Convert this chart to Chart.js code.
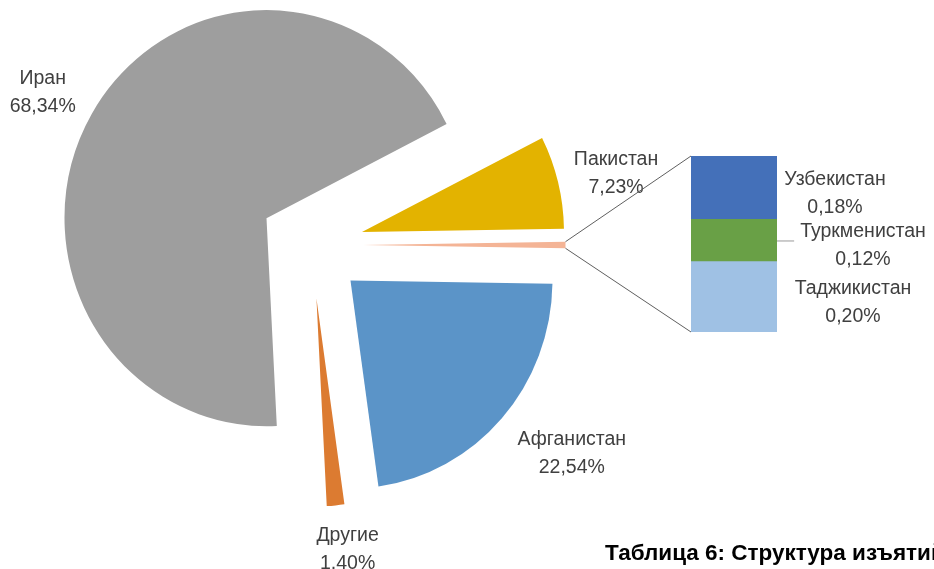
<!DOCTYPE html>
<html lang="ru">
<head>
<meta charset="utf-8">
<title>Структура изъятий</title>
<script src="https://cdn.jsdelivr.net/npm/chart.js@4.4.1/dist/chart.umd.min.js"></script>
<style>
  html, body { margin: 0; padding: 0; background: #fff; overflow: hidden; }
  #wrap { position: relative; width: 934px; height: 569px; overflow: hidden; }
  #wrap canvas { position: absolute; left: 0; top: 0; }
  #caption {
    position: absolute; left: 605px; top: 540px;
    font: bold 22.5px "Liberation Sans", Arial, sans-serif;
    color: #000; white-space: nowrap;
  }
</style>
</head>
<body>
<div id="wrap">
  <canvas id="pie" width="934" height="569"></canvas>
  <canvas id="bar" width="934" height="569"></canvas>
  <div id="caption">Таблица 6: Структура изъятий</div>
</div>
<script>
// Data (shares of total seizures, %)
const pieLabels = ["Афганистан", "Другие", "Иран", "Пакистан"];
const pieValues = [22.54, 1.40, 68.34, 7.23];
const barLabels = ["Узбекистан", "Туркменистан", "Таджикистан"];
const barValues = [0.18, 0.12, 0.20];

// Layout and style
const PIE_X = 311.5, PIE_Y = 245, PIE_R = 202, EXPLODE = 52;
const SY = 1.03; // the source picture is a bit stretched vertically
const CANVAS_W = 934, CANVAS_H = 569;
const otherColor = "#F4B496";
const pieColors = ["#5B94C8", "#DC7B31", "#9E9E9E", "#E3B300"];
const barColors = ["#4470B9", "#69A046", "#9FC1E4"];
const pieLabelShift = [[70, 35], [12, 44], [-49, -21], [58, -8]];
const barLabelDx = [58, 86, 76];
const barLeader = [false, true, false];
const LABEL_FONT = '19.5px "Liberation Sans", Arial, sans-serif';
const TEXT_COLOR = "#404040";
const LINE_GAP = 28;

const fmt = (v) => v.toFixed(2).replace(".", ",") + "%";

// Small slice = sum of the stacked bar
const otherSum = barValues.reduce((a, b) => a + b, 0);
const total = otherSum + pieValues.reduce((a, b) => a + b, 0);
const otherAngle = (otherSum / total) * 360;

function midAngle(arc) {
	return (arc.startAngle + arc.endAngle) / 2;
}

// point of an exploded slice at a given angle and radius
function piePoint(arc, angle, r) {
	const mid = midAngle(arc);
	return {
		x: arc.x + Math.cos(mid) * EXPLODE + Math.cos(angle) * r,
		y: arc.y + (Math.sin(mid) * EXPLODE + Math.sin(angle) * r) * SY,
	};
}

const pieDraw = {
	id: "pieDraw",
	beforeDatasetsDraw(chart) {
		const ctx = chart.ctx;
		const arcs = chart.getDatasetMeta(0).data;

		// exploded slices
		arcs.forEach((arc) => {
			const mid = midAngle(arc);
			ctx.save();
			ctx.translate(arc.x, arc.y);
			ctx.scale(1, SY);
			ctx.translate(-arc.x, -arc.y);
			ctx.translate(Math.cos(mid) * EXPLODE, Math.sin(mid) * EXPLODE);
			arc.draw(ctx);
			ctx.restore();
		});

		// labels
		ctx.save();
		ctx.font = LABEL_FONT;
		ctx.fillStyle = TEXT_COLOR;
		ctx.textAlign = "center";
		ctx.textBaseline = "middle";
		pieLabels.forEach((name, i) => {
			const arc = arcs[i + 1];
			const p = piePoint(arc, midAngle(arc), arc.outerRadius);
			const x = p.x + pieLabelShift[i][0];
			const y = p.y + pieLabelShift[i][1];
			ctx.fillText(name, x, y - LINE_GAP / 2);
			ctx.fillText(fmt(pieValues[i]), x, y + LINE_GAP / 2);
		});
		ctx.restore();
		return false;
	},
};

const pieChart = new Chart(document.getElementById("pie"), {
	type: "pie",
	data: {
		labels: ["Центральная Азия", ...pieLabels],
		datasets: [
			{
				data: [otherSum, ...pieValues],
				backgroundColor: [otherColor, ...pieColors],
				borderWidth: 0,
			},
		],
	},
	options: {
		responsive: false,
		animation: false,
		devicePixelRatio: 1,
		rotation: 90 - otherAngle / 2,
		layout: {
			padding: {
				left: PIE_X - PIE_R,
				right: CANVAS_W - (PIE_X + PIE_R),
				top: PIE_Y - PIE_R,
				bottom: CANVAS_H - (PIE_Y + PIE_R),
			},
		},
		plugins: {
			legend: { display: false },
			tooltip: { enabled: false },
		},
	},
	plugins: [pieDraw],
});

const barDraw = {
	id: "barDraw",
	afterDatasetsDraw(chart) {
		const ctx = chart.ctx;
		const bars = chart.data.datasets.map((d, i) => chart.getDatasetMeta(i).data[0]);
		const left = bars[0].x - bars[0].width / 2;
		const right = bars[0].x + bars[0].width / 2;
		const top = Math.min(...bars.map((b) => b.y));
		const bottom = Math.max(...bars.map((b) => b.base));

		// connector lines from the small slice
		const arc = pieChart.getDatasetMeta(0).data[0];
		const p1 = piePoint(arc, arc.startAngle, arc.outerRadius);
		const p2 = piePoint(arc, arc.endAngle, arc.outerRadius);
		ctx.save();
		ctx.strokeStyle = "#5f5f5f";
		ctx.lineWidth = 1;
		ctx.beginPath();
		ctx.moveTo(p1.x, p1.y);
		ctx.lineTo(left, top);
		ctx.moveTo(p2.x, p2.y);
		ctx.lineTo(left, bottom);
		ctx.stroke();

		// bar labels
		ctx.font = LABEL_FONT;
		ctx.fillStyle = TEXT_COLOR;
		ctx.textAlign = "center";
		ctx.textBaseline = "middle";
		chart.data.datasets.forEach((ds, i) => {
			const b = bars[i];
			const idx = barLabels.indexOf(ds.label);
			const segMid = (b.y + b.base) / 2;
			const x = right + barLabelDx[idx];
			const y = segMid + 5.5;
			ctx.fillText(ds.label, x, y - LINE_GAP / 2);
			ctx.fillText(fmt(barValues[idx]), x, y + LINE_GAP / 2);
			if (barLeader[idx]) {
				const w = ctx.measureText(ds.label).width;
				ctx.strokeStyle = "#999";
				ctx.beginPath();
				ctx.moveTo(right, segMid + 0.5);
				ctx.lineTo(x - w / 2 - 6, segMid + 0.5);
				ctx.stroke();
			}
		});
		ctx.restore();
	},
};

// stacked from the bottom up, so the first country ends on top
const barChart = new Chart(document.getElementById("bar"), {
	type: "bar",
	data: {
		labels: [""],
		datasets: barLabels
			.map((name, i) => ({
				label: name,
				data: [barValues[i]],
				backgroundColor: barColors[i],
				borderWidth: 0,
				barPercentage: 1,
				categoryPercentage: 1,
			}))
			.reverse(),
	},
	options: {
		responsive: false,
		animation: false,
		devicePixelRatio: 1,
		layout: {
			padding: { left: 691, right: 157, top: 156, bottom: 237 },
		},
		scales: {
			x: { stacked: true, display: false },
			y: { stacked: true, display: false, min: 0, max: otherSum },
		},
		plugins: {
			legend: { display: false },
			tooltip: { enabled: false },
		},
	},
	plugins: [barDraw],
});
</script>
</body>
</html>
